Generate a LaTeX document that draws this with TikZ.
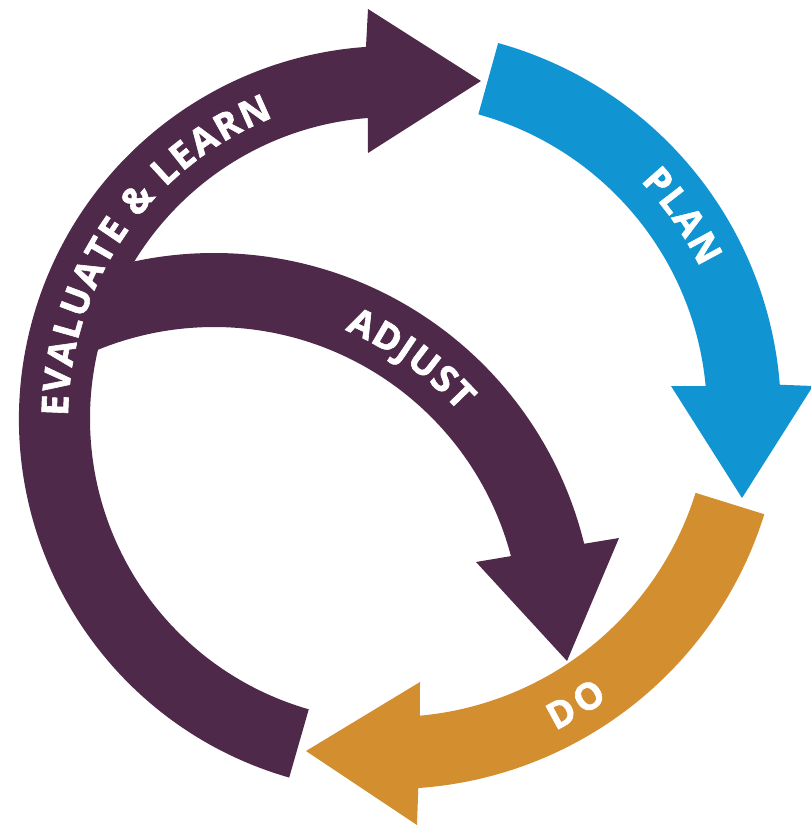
\documentclass[tikz,border=0pt]{standalone}
\usepackage{fontspec}
\setmainfont{Open Sans}
\newfontfamily\heavyfont{Open Sans}[BoldFeatures={FakeBold=1.6}]
\usetikzlibrary{calc,decorations.text}
\definecolor{purp}{RGB}{78,41,74}
\definecolor{blu}{RGB}{16,148,210}
\definecolor{orn}{RGB}{210,142,47}
\newcommand\lblfmt{\heavyfont\fontsize{37}{37}\selectfont\bfseries\color{white}}
\begin{document}
\begin{tikzpicture}[x=1pt,y=-1pt,
  lbl/.style={decorate, decoration={text along path, text align={fit to path}, text={|\lblfmt|#1}}}]
\useasboundingbox (0,0) rectangle (810,826);
\coordinate (cE) at (392,419);
\coordinate (cB) at (395,415);
\coordinate (cO) at (391,398);
\coordinate (cA) at (214,634);
% EVALUATE & LEARN arrow
\fill[purp] ($(cE)+(106:373)$) arc[start angle=106, end angle=266, radius=373]
  -- (368,9) -- (481,81) -- (368,153)
  -- ($(cE)+(265.4:302)$) arc[start angle=265.4, end angle=106, radius=302] -- cycle;
% ADJUST arrow
\fill[purp] ($(cA)+(245:381)$) arc[start angle=245, end angle=346.3, radius=381]
  -- (619,538) -- (567,661) -- (476,562)
  -- ($(cA)+(345.3:307)$) arc[start angle=345.3, end angle=245, radius=307] -- cycle;
% PLAN arrow
\fill[blu] ($(cB)+(285.5:386)$) arc[start angle=285.5, end angle=355.5, radius=386]
  -- (813,386) -- (742,498) -- (671,386)
  -- ($(cB)+(354.7:312)$) arc[start angle=354.7, end angle=285.5, radius=312] -- cycle;
% DO arrow
\fill[orn] ($(cO)+(17.3:391)$) arc[start angle=17.3, end angle=86, radius=391]
  -- (417,825) -- (306,751) -- (420,682)
  -- ($(cO)+(84.8:319)$) arc[start angle=84.8, end angle=17.3, radius=319] -- cycle;
% labels
\path[lbl={EVALUATE {\&} LEARN}] ($(cE)+(180.5:324)$) arc[start angle=180.5, end angle=248.5, radius=324];
\path[lbl={PLAN}] ($(cB)+(316.4:339)$) arc[start angle=316.4, end angle=334.2, radius=339];
\path[lbl={ADJUST}] ($(cA)+(293.3:331)$) arc[start angle=293.3, end angle=317.8, radius=331];
\path[lbl={DO}] ($(cO)+(63.7:371)$) arc[start angle=63.7, end angle=54.2, radius=371];
\end{tikzpicture}
\end{document}
